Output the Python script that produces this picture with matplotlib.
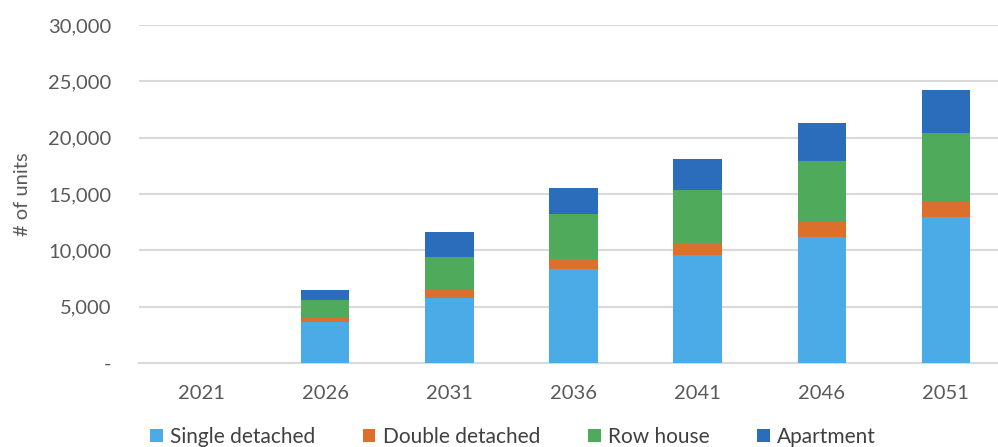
import matplotlib.pyplot as plt
import numpy as np

plt.rcParams['font.family'] = ['Lato', 'DejaVu Sans']

years = ['2021', '2026', '2031', '2036', '2041', '2046', '2051']
single = [0, 3650, 5770, 8370, 9610, 11180, 12930]
double = [0, 350, 710, 860, 1010, 1360, 1360]
row = [0, 1570, 2930, 4020, 4730, 5380, 6100]
apartment = [0, 890, 2250, 2250, 2750, 3340, 3820]

names = ['Single detached', 'Double detached', 'Row house', 'Apartment']
colors = ['#4BABE7', '#DB6F2B', '#50AA5B', '#2B6DBA']

fig = plt.figure(figsize=(9.98, 4.47), dpi=100)
# axes run a bit past the right edge, like the cropped original
ax = fig.add_axes([139 / 998, 1 - 363 / 447, 869 / 998, 338 / 447])

x = np.arange(len(years))
bottom = np.zeros(len(years))
for vals, name, c in zip([single, double, row, apartment], names, colors):
    ax.bar(x, vals, 0.39, bottom=bottom, color=c, label=name, zorder=3)
    bottom += np.array(vals)

ax.set_xlim(-0.5, 6.5)
ax.set_ylim(0, 30000)
ax.set_yticks(range(0, 30001, 5000))
ax.set_yticklabels(['-' if v == 0 else f'{v:,}' for v in range(0, 30001, 5000)])
ax.set_xticks(x)
ax.set_xticklabels(years)
ax.grid(axis='y', color='#d9d9d9', linewidth=1.5, zorder=0)
for s in ['top', 'right', 'left']:
    ax.spines[s].set_visible(False)
ax.spines['bottom'].set_color('#d9d9d9')
ax.spines['bottom'].set_linewidth(1.5)
ax.tick_params(length=0, labelsize=14.5, labelcolor='#595959')
ax.tick_params(axis='y', pad=20)
ax.tick_params(axis='x', pad=16)
ax.set_ylabel('# of units', fontsize=14.5, color='#595959', labelpad=12)

fig.legend(loc='lower left', bbox_to_anchor=(150 / 998, 0.0), ncol=4,
           frameon=False, fontsize=15, labelcolor='#404040',
           handlelength=0.6, handleheight=0.6, handletextpad=0.35,
           columnspacing=2.3, borderpad=0, borderaxespad=0)

fig.savefig('out.png', dpi=100)
